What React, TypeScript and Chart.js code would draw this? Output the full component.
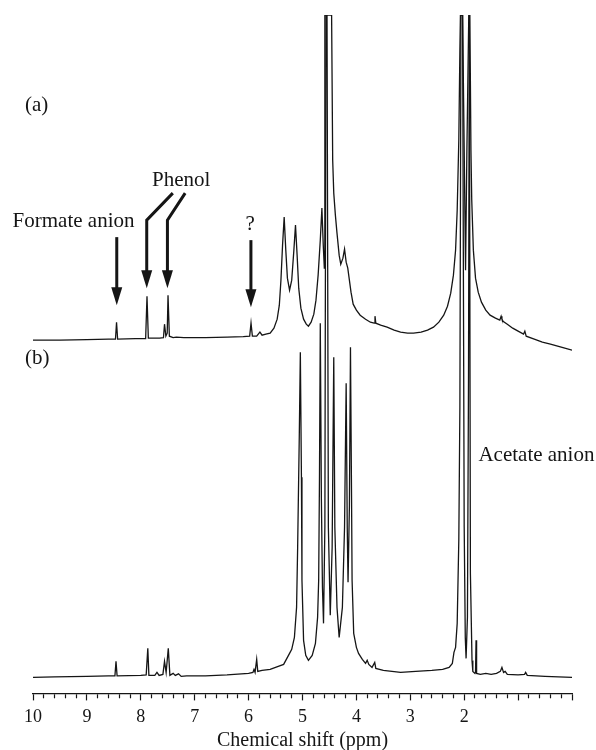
import React, { useEffect, useRef } from 'react';
import { Chart, registerables } from 'chart.js';

Chart.register(...registerables);

// ---- Spectrum (a): chemical shift (ppm) and intensity above its right-hand baseline
const A_PPM = [
  10.0, 9.5, 9.0, 8.6, 8.47, 8.45, 8.43, 8.1, 7.91, 7.885, 7.86, 7.65, 7.58, 7.56, 7.535, 7.51, 7.495, 7.47, 7.4, 7.34,
  7.2, 6.8, 6.4, 6.1, 5.98, 5.955, 5.93, 5.85, 5.79, 5.75, 5.68, 5.6, 5.53, 5.47, 5.43, 5.4, 5.37, 5.34, 5.31, 5.28,
  5.24, 5.2, 5.16, 5.13, 5.1, 5.07, 5.03, 4.98, 4.93, 4.89, 4.84, 4.79, 4.75, 4.71, 4.67, 4.64, 4.615, 4.595, 4.585, 4.46,
  4.44, 4.42, 4.39, 4.36, 4.32, 4.29, 4.25, 4.22, 4.19, 4.16, 4.13, 4.1, 4.06, 4.0, 3.93, 3.83, 3.74, 3.67, 3.655, 3.64,
  3.55, 3.43, 3.3, 3.18, 3.05, 2.94, 2.8, 2.68, 2.57, 2.47, 2.38, 2.31, 2.25, 2.2, 2.16, 2.13, 2.1, 2.08, 2.07, 2.03,
  2.0, 1.975, 1.95, 1.915, 1.895, 1.875, 1.86, 1.83, 1.79, 1.74, 1.68, 1.6, 1.52, 1.42, 1.34, 1.315, 1.3, 1.28, 1.2, 1.1,
  1.0, 0.9, 0.875, 0.85, 0.7, 0.55, 0.4, 0.2, 0.0,
];
const A_INT = [
  10, 10, 10.5, 11, 11, 28, 11, 11.5, 11.5, 54, 12, 12, 12.5, 26, 14, 17, 55, 14, 12.5, 13,
  12.5, 12.5, 13, 13.5, 14, 27, 14, 14, 18, 15, 16, 17, 22, 31, 45, 70, 105, 133, 100, 72,
  60, 70, 100, 125, 95, 62, 42, 31, 26, 24, 28, 36, 50, 75, 110, 142, 105, 82, 335, 335,
  190, 157, 135, 117, 95, 86, 92, 101, 88, 82, 70, 58, 46, 40, 35, 31, 28, 27, 34, 27,
  25, 23, 20, 18, 17, 17, 18, 20, 23, 28, 35, 44, 57, 75, 100, 140, 210, 300, 335, 335,
  200, 80, 200, 335, 335, 200, 150, 100, 72, 58, 48, 40, 35, 32, 30, 34, 31, 29, 26, 22,
  19, 16, 19, 14, 11, 8, 6, 3, 0,
];

// ---- Spectrum (b)
const B_PPM = [
  10.0, 9.6, 9.0, 8.6, 8.48, 8.46, 8.44, 8.0, 7.9, 7.87, 7.85, 7.74, 7.7, 7.66, 7.59, 7.56, 7.53, 7.49, 7.46, 7.4,
  7.36, 7.3, 7.25, 7.15, 6.8, 6.4, 6.0, 5.92, 5.9, 5.88, 5.85, 5.83, 5.75, 5.6, 5.45, 5.35, 5.28, 5.24, 5.2, 5.15,
  5.11, 5.09, 5.06, 5.04, 5.02, 5.01, 4.98, 4.94, 4.89, 4.82, 4.76, 4.72, 4.7, 4.685, 4.67, 4.65, 4.63, 4.61, 4.585, 4.565,
  4.545, 4.52, 4.485, 4.45, 4.42, 4.4, 4.36, 4.32, 4.26, 4.22, 4.19, 4.17, 4.155, 4.13, 4.11, 4.09, 4.08, 4.05, 4.0, 3.96,
  3.89, 3.83, 3.8, 3.77, 3.71, 3.66, 3.64, 3.5, 3.18, 2.9, 2.6, 2.4, 2.28, 2.22, 2.19, 2.16, 2.13, 2.1, 2.08, 2.06,
  2.03, 2.0, 1.98, 1.965, 1.94, 1.92, 1.905, 1.895, 1.885, 1.855, 1.84, 1.8, 1.79, 1.78, 1.77, 1.7, 1.6, 1.5, 1.4, 1.33,
  1.3, 1.27, 1.24, 1.2, 1.0, 0.88, 0.86, 0.83, 0.5, 0.0,
];
const B_INT = [
  0, 0.5, 1, 1.5, 1.5, 16, 1.5, 2, 2.5, 29, 2, 2, 5, 2, 3, 16, 5, 29, 2, 4,
  2, 3.5, 1, 1.5, 1.5, 2.5, 4, 5, 8, 5, 18, 6, 7, 8, 11, 13, 20, 24, 28, 40,
  70, 130, 240, 325, 200, 97, 37, 22, 17, 22, 34, 60, 97, 200, 354, 180, 90, 54, 150, 662,
  662, 150, 62, 130, 320, 150, 70, 40, 70, 150, 294, 150, 95, 170, 330, 180, 97, 44, 30, 24,
  18, 14, 17, 13, 10, 15, 9, 7, 5, 6, 7, 8, 10, 14, 25, 30, 54, 137, 270, 662,
  662, 150, 40, 19, 60, 300, 662, 662, 104, 17, 6, 4, 5, 37, 4, 3, 4, 3, 4, 6,
  10, 5, 6, 3, 2.5, 3, 5, 2, 1, 0,
];

// vertical stacking offsets of the two traces
const A_OFFSET = 343;
const B_OFFSET = 16;

const X_MIN = 0;
const X_MAX = 10;
const X_LABELS = ['10', '9', '8', '7', '6', '5', '4', '3', '2'];

const SERIF = '"Liberation Serif", "Times New Roman", Times, serif';
const INK = '#151515';

// annotation texts (placed in data coordinates)
const TEXTS = [
  { text: '(a)', ppm: 10.15, v: 588, align: 'left' },
  { text: '(b)', ppm: 10.15, v: 335, align: 'left' },
  { text: 'Phenol', ppm: 7.252, v: 513, align: 'center' },
  { text: 'Formate anion', ppm: 9.248, v: 472, align: 'center' },
  { text: '?', ppm: 5.97, v: 469, align: 'center' },
  { text: 'Acetate anion', ppm: 1.736, v: 238, align: 'left' },
];

// arrows: optional kink start, vertical shaft top, tip
const ARROWS = [
  { ppm: 8.446, top: 456, tip: 388 },
  { ppm: 7.89, top: 473, tip: 405, from: { ppm: 7.406, v: 500 } },
  { ppm: 7.506, top: 473, tip: 405, from: { ppm: 7.177, v: 500 } },
  { ppm: 5.957, top: 453, tip: 386 },
];

const isMajor = (v: number) => Math.abs(v - Math.round(v)) < 1e-6;

const annotationPlugin = {
  id: 'nmrAnnotations',
  afterDatasetsDraw(chart: any) {
    const { ctx } = chart;
    const xs = chart.scales.x;
    const ys = chart.scales.y;
    ctx.save();
    ctx.fillStyle = INK;
    ctx.strokeStyle = INK;
    ctx.font = `21px ${SERIF}`;
    ctx.textBaseline = 'middle';
    for (const t of TEXTS) {
      ctx.textAlign = t.align;
      ctx.fillText(t.text, xs.getPixelForValue(t.ppm), ys.getPixelForValue(t.v));
    }
    const headLen = 18;
    const headHalf = 5.5;
    for (const a of ARROWS) {
      const px = xs.getPixelForValue(a.ppm);
      const top = ys.getPixelForValue(a.top);
      const tip = ys.getPixelForValue(a.tip);
      ctx.lineWidth = 3;
      ctx.lineJoin = 'miter';
      ctx.beginPath();
      if (a.from) {
        ctx.moveTo(xs.getPixelForValue(a.from.ppm), ys.getPixelForValue(a.from.v));
        ctx.lineTo(px, top);
      } else {
        ctx.moveTo(px, top);
      }
      ctx.lineTo(px, tip - headLen + 2);
      ctx.stroke();
      ctx.beginPath();
      ctx.moveTo(px - headHalf, tip - headLen);
      ctx.lineTo(px + headHalf, tip - headLen);
      ctx.lineTo(px, tip);
      ctx.closePath();
      ctx.fill();
    }
    ctx.restore();
  },
};

export default function App() {
  const ref = useRef<HTMLCanvasElement | null>(null);
  useEffect(() => {
    if (!ref.current) return;
    const dataA = A_PPM.map((p, i) => ({ x: p, y: A_OFFSET + A_INT[i] }));
    const dataB = B_PPM.map((p, i) => ({ x: p, y: B_OFFSET + B_INT[i] }));
    const chart = new Chart(ref.current, {
      type: 'line',
      data: {
        datasets: [
          { label: '(a)', data: dataA, borderColor: INK, borderWidth: 1.3, pointRadius: 0, tension: 0, fill: false },
          { label: '(b)', data: dataB, borderColor: INK, borderWidth: 1.3, pointRadius: 0, tension: 0, fill: false },
        ],
      },
      options: {
        animation: false,
        responsive: false,
        events: [],
        layout: { padding: { left: 33, right: 24, top: 15, bottom: 2 } },
        plugins: { legend: { display: false }, tooltip: { enabled: false } },
        scales: {
          x: {
            type: 'linear',
            reverse: true,
            min: X_MIN,
            max: X_MAX,
            grid: {
              drawOnChartArea: false,
              drawTicks: true,
              tickLength: 7,
              tickColor: INK,
              tickWidth: 1.2,
              tickBorderDash: (c: any) => (c.tick && isMajor(c.tick.value) ? [] : [4, 100]),
            },
            border: { display: true, color: INK, width: 1.3 },
            ticks: {
              stepSize: 0.2,
              autoSkip: false,
              maxRotation: 0,
              padding: 6,
              color: INK,
              font: { family: SERIF, size: 18 },
              callback: (v: any) => {
                const n = Number(v);
                if (!isMajor(n)) return '';
                const s = String(Math.round(n));
                return X_LABELS.includes(s) ? s : '';
              },
            },
            title: {
              display: true,
              text: 'Chemical shift (ppm)',
              color: INK,
              font: { family: SERIF, size: 20, lineHeight: 0.7 },
              padding: { top: 0, bottom: 0 },
            },
          },
          y: { display: false, min: 0, max: 678 },
        },
      },
      plugins: [annotationPlugin],
    });
    return () => chart.destroy();
  }, []);
  return (
    <div style={{ position: 'absolute', left: 0, top: 0, width: 596, height: 750, overflow: 'hidden', background: '#fff' }}>
      <canvas ref={ref} width={596} height={750} style={{ display: 'block' }} />
    </div>
  );
}
